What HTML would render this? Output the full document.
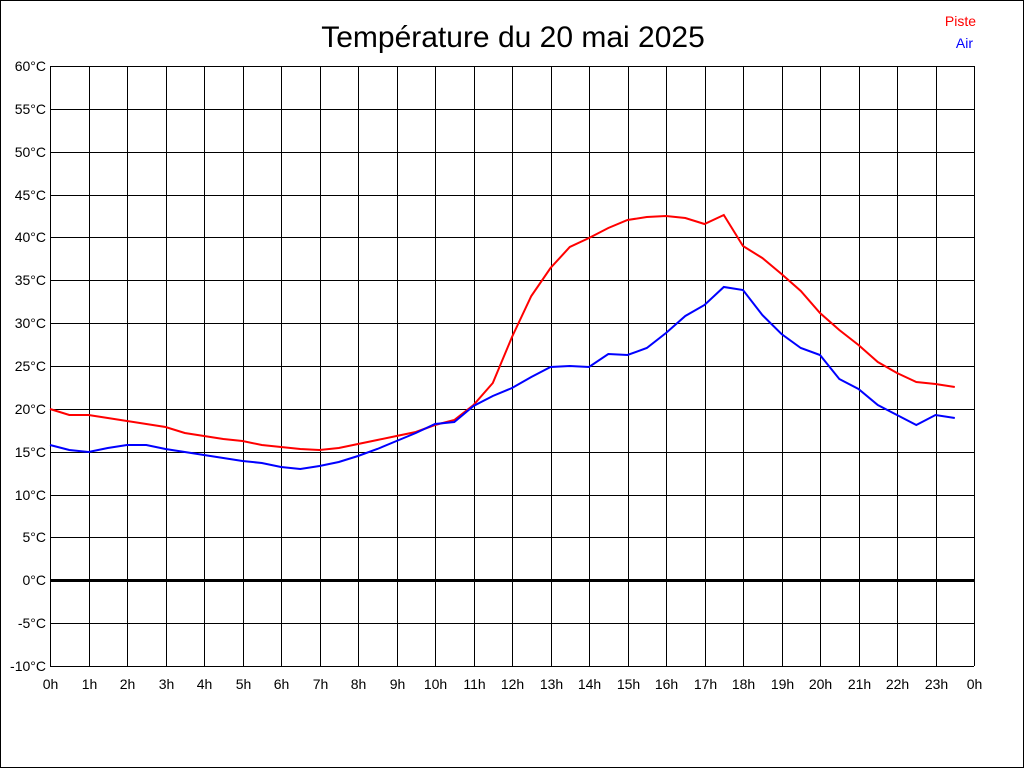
<!DOCTYPE html>
<html><head><meta charset="utf-8"><style>
body{margin:0;background:#fff;}
svg{display:block;font-family:"Liberation Sans",sans-serif;}
</style></head><body>
<svg width="1024" height="768" viewBox="0 0 1024 768">
<rect x="0.5" y="0.5" width="1023" height="767" fill="#fff" stroke="#000"/>
<text x="513" y="47" font-size="30" text-anchor="middle">Température du 20 mai 2025</text>
<text x="976" y="26" font-size="14" fill="#f00" text-anchor="end">Piste</text>
<text x="973" y="48" font-size="14" fill="#00f" text-anchor="end">Air</text>
<g stroke="#000" stroke-width="1" id="grid"></g>
<g font-size="14" id="labels"></g>
<polyline id="red" fill="none" stroke="#f00" stroke-width="2"/>
<polyline id="blue" fill="none" stroke="#00f" stroke-width="2"/>
</svg>
<script>
const g=document.getElementById('grid'),L=document.getElementById('labels');
let s='',t='';
for(let i=0;i<=14;i++){const y=66+i*600/14;const yy=Math.round(y)+0.5;const v=60-5*i;
 s+=`<line x1="50" x2="974" y1="${yy}" y2="${yy}" ${v==0?'stroke-width="3"':''}/>`;
 t+=`<text x="46" y="${Math.round(y)+5}" text-anchor="end">${v}°C</text>`;}
for(let h=0;h<=24;h++){const x=Math.round(50+h*38.5)+0.5;
 s+=`<line x1="${x}" x2="${x}" y1="66" y2="666"/>`;
 t+=`<text x="${x}" y="689" text-anchor="middle">${h==24?0:h}h</text>`;}
g.innerHTML=s;L.innerHTML=t;
const r=[409,415,415,418,421,424,427,433,436,439,441,445,447,449,450,448,444,440,436,432,425,420,405,383,337,296,268,247,238,228,220,217,216,218,224,215,246,258,274,291,313,330,345,362,373,382,384,387];
const b=[445,450,452,448,445,445,449,452,455,458,461,463,467,469,466,462,456,449,441,433,424,422,406,396,388,377,367,366,367,354,355,348,333,316,305,287,290,315,334,348,355,379,389,405,415,425,415,418];
const pts=a=>a.map((y,i)=>(50+i*19.25).toFixed(1)+','+y).join(' ');
document.getElementById('red').setAttribute('points',pts(r));
document.getElementById('blue').setAttribute('points',pts(b));
</script>
</body></html>
